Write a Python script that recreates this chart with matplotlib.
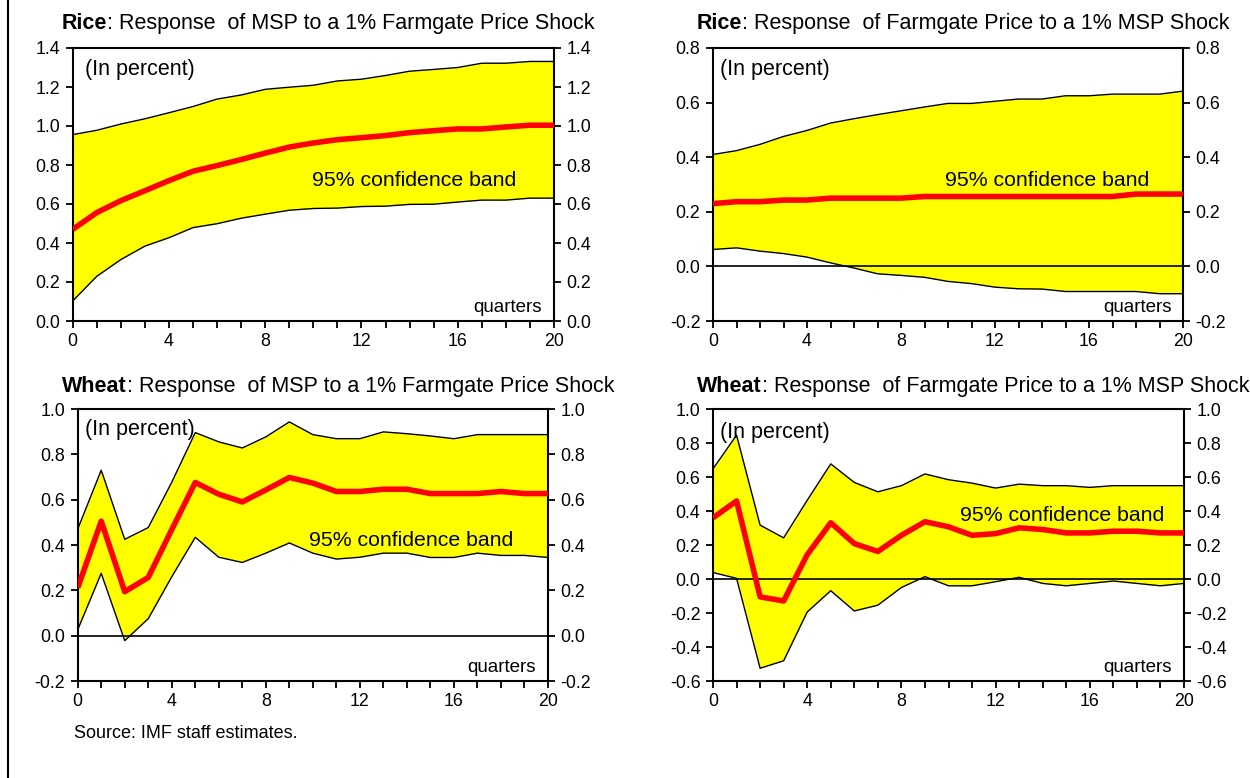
import numpy as np
import matplotlib.pyplot as plt
from matplotlib.lines import Line2D

plt.rcParams['font.family'] = ['Liberation Sans', 'DejaVu Sans']

quarters = list(range(21))

# Rice: response of MSP to a 1% farmgate price shock
rice_msp_upper = [0.956, 0.978, 1.01, 1.037, 1.068, 1.10, 1.138, 1.159, 1.188, 1.199, 1.209,
                  1.231, 1.24, 1.259, 1.281, 1.29, 1.30, 1.322, 1.322, 1.331, 1.331]
rice_msp_mid = [0.47, 0.556, 0.617, 0.668, 0.72, 0.768, 0.797, 0.828, 0.861, 0.892, 0.913,
                0.93, 0.94, 0.951, 0.966, 0.976, 0.985, 0.985, 0.995, 1.004, 1.004]
rice_msp_lower = [0.103, 0.229, 0.315, 0.384, 0.427, 0.479, 0.499, 0.527, 0.548, 0.568, 0.577,
                  0.579, 0.587, 0.589, 0.598, 0.599, 0.61, 0.62, 0.62, 0.63, 0.63]

# Rice: response of farmgate price to a 1% MSP shock
rice_fp_upper = [0.41, 0.424, 0.447, 0.476, 0.498, 0.525, 0.541, 0.556, 0.57, 0.584, 0.597,
                 0.597, 0.605, 0.613, 0.613, 0.625, 0.625, 0.631, 0.631, 0.631, 0.642]
rice_fp_mid = [0.23, 0.237, 0.237, 0.243, 0.243, 0.25, 0.25, 0.25, 0.25, 0.256, 0.256,
               0.256, 0.256, 0.256, 0.256, 0.256, 0.256, 0.256, 0.265, 0.265, 0.265]
rice_fp_lower = [0.062, 0.068, 0.056, 0.047, 0.034, 0.013, -0.006, -0.027, -0.033, -0.04, -0.055,
                 -0.063, -0.076, -0.082, -0.083, -0.092, -0.092, -0.092, -0.092, -0.1, -0.1]

# Wheat: response of MSP to a 1% farmgate price shock
wheat_msp_upper = [0.47, 0.73, 0.425, 0.477, 0.677, 0.896, 0.855, 0.828, 0.877, 0.943, 0.887,
                   0.869, 0.869, 0.899, 0.891, 0.881, 0.869, 0.887, 0.887, 0.887, 0.887]
wheat_msp_mid = [0.211, 0.505, 0.194, 0.257, 0.468, 0.676, 0.624, 0.59, 0.643, 0.698, 0.673,
                 0.636, 0.636, 0.646, 0.646, 0.627, 0.627, 0.627, 0.636, 0.627, 0.627]
wheat_msp_lower = [0.026, 0.275, -0.022, 0.075, 0.26, 0.434, 0.346, 0.323, 0.364, 0.409, 0.364,
                   0.338, 0.346, 0.364, 0.364, 0.345, 0.345, 0.364, 0.354, 0.354, 0.345]

# Wheat: response of farmgate price to a 1% MSP shock
wheat_fp_upper = [0.648, 0.846, 0.317, 0.242, 0.463, 0.677, 0.568, 0.513, 0.549, 0.618, 0.584,
                  0.564, 0.535, 0.558, 0.549, 0.549, 0.539, 0.549, 0.549, 0.549, 0.549]
wheat_fp_mid = [0.36, 0.459, -0.105, -0.129, 0.143, 0.331, 0.208, 0.162, 0.257, 0.337, 0.307,
                0.257, 0.267, 0.301, 0.291, 0.271, 0.271, 0.281, 0.281, 0.271, 0.271]
wheat_fp_lower = [0.038, 0.004, -0.525, -0.481, -0.194, -0.069, -0.188, -0.154, -0.05, 0.014, -0.04,
                  -0.04, -0.016, 0.01, -0.026, -0.04, -0.026, -0.012, -0.026, -0.04, -0.026]

W, H = 1250, 778
fig = plt.figure(figsize=(12.5, 7.78), dpi=100)


def px(l, t, r, b):
    return [l / W, 1 - b / H, (r - l) / W, (b - t) / H]


panels = [
    dict(rect=px(72.7, 48, 554, 321), crop='Rice',
         title=': Response  of MSP to a 1% Farmgate Price Shock', tpos=(62, 29),
         up=rice_msp_upper, mid=rice_msp_mid, lo=rice_msp_lower,
         ylim=(0, 1.4), yt=np.arange(0, 1.41, 0.2), zero=False,
         band=(0.71, 0.516), inpct=(0.026, 0.92)),
    dict(rect=px(713, 48, 1183, 321), crop='Rice',
         title=': Response  of Farmgate Price to a 1% MSP Shock', tpos=(697, 29),
         up=rice_fp_upper, mid=rice_fp_mid, lo=rice_fp_lower,
         ylim=(-0.2, 0.8), yt=np.arange(-0.2, 0.81, 0.2), zero=True,
         band=(0.71, 0.516), inpct=(0.015, 0.92)),
    dict(rect=px(77.7, 409, 548, 681), crop='Wheat',
         title=': Response  of MSP to a 1% Farmgate Price Shock', tpos=(62, 392),
         up=wheat_msp_upper, mid=wheat_msp_mid, lo=wheat_msp_lower,
         ylim=(-0.2, 1.0), yt=np.arange(-0.2, 1.01, 0.2), zero=True,
         band=(0.709, 0.518), inpct=(0.016, 0.923)),
    dict(rect=px(713, 409, 1184, 681), crop='Wheat',
         title=': Response  of Farmgate Price to a 1% MSP Shock', tpos=(697, 392),
         up=wheat_fp_upper, mid=wheat_fp_mid, lo=wheat_fp_lower,
         ylim=(-0.6, 1.0), yt=np.arange(-0.6, 1.01, 0.2), zero=True,
         band=(0.741, 0.607), inpct=(0.015, 0.915)),
]

for p in panels:
    ax = fig.add_axes(p['rect'])
    ax.fill_between(quarters, p['lo'], p['up'], color='#FFFF00', lw=0, zorder=1)
    ax.plot(quarters, p['up'], color='black', lw=1.0, zorder=2)
    ax.plot(quarters, p['lo'], color='black', lw=1.0, zorder=2)
    if p['zero']:
        ax.axhline(0, color='black', lw=1.2, zorder=2)
    ax.plot(quarters, p['mid'], color='#FF0000', lw=4, zorder=3, solid_capstyle='butt')
    ax.set_xlim(0, 20)
    ax.set_ylim(*p['ylim'])
    ax.set_xticks(range(0, 21, 4))
    ax.set_xticks(range(21), minor=True)
    ax.set_yticks(p['yt'])
    ax.set_yticklabels(['%.1f' % v for v in p['yt']])
    ax.tick_params(axis='both', which='both', direction='out', length=5, width=1.3,
                   labelsize=12.8, pad=4)
    ax.tick_params(axis='y', right=True, labelright=True)
    for s in ax.spines.values():
        s.set_linewidth(1.5)
    ax.text(p['inpct'][0], p['inpct'][1], '(In percent)', transform=ax.transAxes,
            ha='left', va='center', fontsize=15.5)
    ax.text(p['band'][0], p['band'][1], '95% confidence band', transform=ax.transAxes,
            ha='center', va='center', fontsize=15.3)
    ax.text(0.975, 0.02, 'quarters', transform=ax.transAxes,
            ha='right', va='bottom', fontsize=13.5)
    t = fig.text(p['tpos'][0] / W, 1 - p['tpos'][1] / H, p['crop'], fontsize=15.5,
                 fontweight='bold', ha='left', va='baseline')
    ax.annotate(p['title'], xy=(1, 0), xycoords=t, ha='left', va='bottom',
                fontsize=15.5, annotation_clip=False)

fig.text(74 / W, 1 - 733 / H, 'Source: IMF staff estimates.', fontsize=13,
         ha='left', va='center')
fig.add_artist(Line2D([8 / W, 8 / W], [0, 1], color='black', lw=1.5))

fig.savefig('out.png', dpi=100)
